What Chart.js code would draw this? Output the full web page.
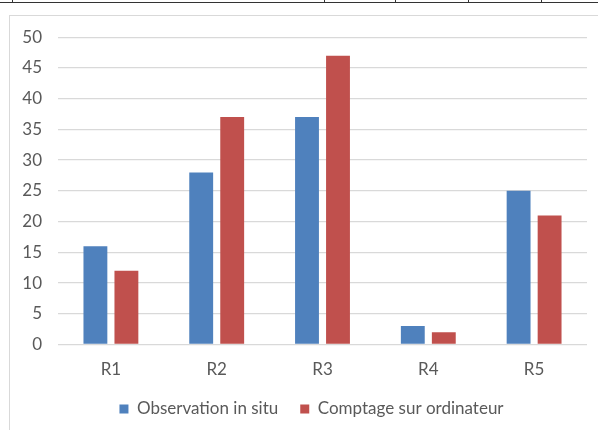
<!DOCTYPE html>
<html>
<head>
<meta charset="utf-8">
<script src="https://cdn.jsdelivr.net/npm/chart.js@4"></script>
<style>
  html, body { margin:0; padding:0; background:#fff; width:598px; height:430px; overflow:hidden; position:relative; }
  .hline { position:absolute; left:0; top:2px; width:598px; height:1px; background:#333; }
  .vtick { position:absolute; top:0; width:1px; height:3px; background:#333; }
  .frame { position:absolute; left:9px; top:15px; width:700px; height:500px; border:1.5px solid #D9D9D9; box-sizing:border-box; }
  .wrap { position:absolute; left:10px; top:10.5px; width:603px; height:421.5px; }
</style>
</head>
<body>
<div class="hline"></div>
<div class="vtick" style="left:12px"></div>
<div class="vtick" style="left:324px"></div>
<div class="vtick" style="left:395px"></div>
<div class="vtick" style="left:468px"></div>
<div class="vtick" style="left:541px"></div>
<div class="frame"></div>
<div class="wrap"><canvas id="c"></canvas></div>
<script>
const categories = ["R1", "R2", "R3", "R4", "R5"];
const observationInSitu = [16, 28, 37, 3, 25];
const comptageSurOrdinateur = [12, 37, 47, 2, 21];
const seriesNames = ["Observation in situ", "Comptage sur ordinateur"];
const yTicks = [0, 5, 10, 15, 20, 25, 30, 35, 40, 45, 50];

const FONT = "Lato";
new Chart(document.getElementById('c'), {
  type: 'bar',
  data: {
    labels: categories,
    datasets: [
      { label: seriesNames[0], data: observationInSitu, backgroundColor: '#4F81BD', categoryPercentage: 0.586, barPercentage: 0.77 },
      { label: seriesNames[1], data: comptageSurOrdinateur, backgroundColor: '#C0504D', categoryPercentage: 0.586, barPercentage: 0.77 }
    ]
  },
  options: {
    responsive: true,
    maintainAspectRatio: false,
    animation: false,
    layout: { padding: { left: 0, right: 0, top: 0, bottom: 5 } },
    plugins: {
      legend: {
        position: 'bottom',
        labels: { font: { family: FONT, size: 17 }, color: '#595959', boxWidth: 9, boxHeight: 9, padding: 22 }
      },
      tooltip: { enabled: false }
    },
    scales: {
      x: {
        grid: { display: false, drawTicks: false },
        border: { display: false },
        ticks: { font: { family: FONT, size: 17 }, color: '#595959', padding: 15 },
        afterFit: (s) => { s.height = 34; }
      },
      y: {
        min: 0, max: 50,
        afterBuildTicks: (axis) => { axis.ticks = yTicks.map(v => ({ value: v })); },
        grid: { color: '#D9D9D9', lineWidth: 1.3, drawTicks: false },
        border: { display: false },
        ticks: { font: { family: FONT, size: 17 }, color: '#595959', padding: 16 },
        afterFit: (s) => { s.width = 48; }
      },
      y2: {
        position: 'right',
        display: true,
        grid: { display: false, drawTicks: false },
        border: { display: false },
        ticks: { display: false },
        afterFit: (s) => { s.width = 26; }
      }
    }
  }
});
</script>
</body>
</html>
